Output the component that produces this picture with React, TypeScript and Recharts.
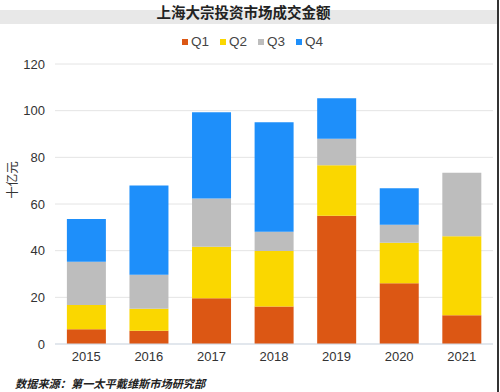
import { Bar, BarChart, CartesianGrid, XAxis, YAxis } from "recharts"

const years = ["2015", "2016", "2017", "2018", "2019", "2020", "2021"]
const q1 = [6.3, 5.7, 19.6, 16.1, 55.0, 26.0, 12.3]
const q2 = [10.4, 9.4, 22.1, 23.8, 21.6, 17.4, 33.9]
const q3 = [18.6, 14.6, 20.7, 8.2, 11.4, 7.7, 27.2]
const q4 = [18.3, 38.2, 36.9, 46.9, 17.3, 15.6, 0]
const yTicks = [0, 20, 40, 60, 80, 100, 120]

const series = [
  { key: "Q1", color: "#dc5714" },
  { key: "Q2", color: "#fad700" },
  { key: "Q3", color: "#bdbdbd" },
  { key: "Q4", color: "#1e8ffa" },
]

const data = years.map((year, i) => ({
  year,
  Q1: q1[i],
  Q2: q2[i],
  Q3: q3[i],
  Q4: q4[i],
}))

const numFont = "'Liberation Sans', Arial, sans-serif"
const cjkFont = "'Noto Sans CJK SC', sans-serif"

export default function App() {
  return (
    <div
      style={{
        position: "absolute",
        left: 0,
        top: 0,
        width: 500,
        height: 392,
        background: "#fff",
        overflow: "hidden",
      }}
    >
      <div style={{ position: "absolute", left: 0, top: 10, width: 497, height: 14, background: "#e8e8e8" }} />
      <div
        style={{
          position: "absolute",
          left: 0,
          top: 3,
          width: 487,
          textAlign: "center",
          fontFamily: cjkFont,
          fontWeight: 700,
          fontSize: 14.5,
          lineHeight: "18px",
          color: "#222",
        }}
      >
        上海大宗投资市场成交金额
      </div>
      <div style={{ position: "absolute", left: 497, top: 0, width: 2, height: 392, background: "#333" }} />

      <div
        style={{
          position: "absolute",
          left: 182,
          top: 34,
          display: "flex",
          alignItems: "center",
          fontFamily: numFont,
          fontSize: 13.5,
          color: "#444",
          lineHeight: "16px",
        }}
      >
        {series.map((s) => (
          <div key={s.key} style={{ display: "flex", alignItems: "center", marginRight: 11 }}>
            <span style={{ display: "inline-block", width: 6, height: 6, background: s.color, marginRight: 3 }} />
            <span>{s.key}</span>
          </div>
        ))}
      </div>

      <div
        style={{
          position: "absolute",
          left: 11,
          top: 180,
          transform: "translate(-50%, -50%) rotate(-90deg)",
          fontFamily: cjkFont,
          fontSize: 12.5,
          color: "#333",
          whiteSpace: "nowrap",
        }}
      >
        十亿元
      </div>

      <BarChart
        width={500}
        height={392}
        data={data}
        margin={{ top: 64, right: 7, bottom: 18, left: 0 }}
        barCategoryGap="19%"
        style={{ position: "absolute", left: 0, top: 0 }}
      >
        <CartesianGrid vertical={false} stroke="#e4e4e4" />
        <XAxis
          dataKey="year"
          height={30}
          tickLine={false}
          tickSize={0}
          tickMargin={8}
          axisLine={{ stroke: "#d3dde9" }}
          tick={{ fill: "#333", fontSize: 13, fontFamily: numFont }}
        />
        <YAxis
          width={55}
          domain={[0, 120]}
          ticks={yTicks}
          tickLine={false}
          tickSize={0}
          tickMargin={10}
          axisLine={false}
          tick={{ fill: "#333", fontSize: 13, fontFamily: numFont }}
        />
        {series.map((s) => (
          <Bar key={s.key} dataKey={s.key} stackId="a" fill={s.color} isAnimationActive={false} />
        ))}
      </BarChart>

      <div
        style={{
          position: "absolute",
          left: 15,
          top: 375,
          fontFamily: cjkFont,
          fontStyle: "italic",
          fontWeight: 700,
          fontSize: 11.2,
          lineHeight: "16px",
          color: "#222",
          whiteSpace: "nowrap",
        }}
      >
        数据来源：第一太平戴维斯市场研究部
      </div>
    </div>
  )
}
